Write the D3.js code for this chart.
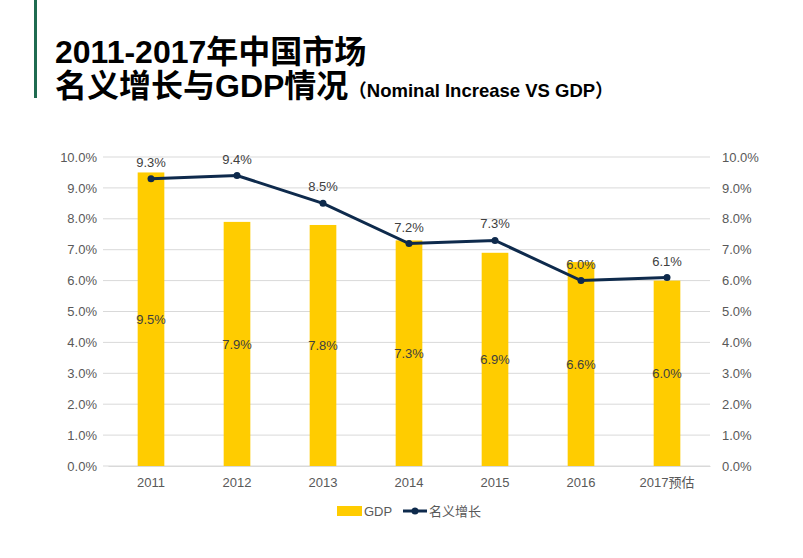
<!DOCTYPE html>
<html><head><meta charset="utf-8">
<script src="https://cdn.jsdelivr.net/npm/d3@7"></script>
<style>
body{margin:0;background:#fff;}
svg{display:block;font-family:"Liberation Sans",Arial,"Noto Sans CJK SC",sans-serif;}
</style></head>
<body><svg id="c" width="803" height="558"></svg>
<script>
const categories = ["2011","2012","2013","2014","2015","2016","2017预估"];
const gdp = [9.5,7.9,7.8,7.3,6.9,6.6,6.0];
const nominal = [9.3,9.4,8.5,7.2,7.3,6.0,6.1];
const yTicks = [0,1,2,3,4,5,6,7,8,9,10];

const svg = d3.select("#c");
const m = {left:108,right:710,top:157,bottom:466};

// title block
svg.append("rect").attr("x",34).attr("y",0).attr("width",3).attr("height",98).attr("fill","#1F6B50");
svg.append("text").attr("x",55).attr("y",63).attr("font-size",32).attr("font-weight","bold").attr("fill","#000")
  .attr("font-family","'Liberation Sans','Noto Sans CJK SC',sans-serif").text("2011-2017年中国市场");
const t2 = svg.append("text").attr("x",55).attr("y",97).attr("font-weight","bold").attr("fill","#000")
  .attr("font-family","'Liberation Sans','Noto Sans CJK SC',sans-serif");
t2.append("tspan").attr("font-size",32).text("名义增长与GDP情况");
t2.append("tspan").attr("font-size",18.5).text("（Nominal Increase VS GDP）");

const x = d3.scaleBand().domain(categories).range([m.left,m.right]).paddingInner(0.69).paddingOuter(0.345);
const y = d3.scaleLinear().domain([0,10]).range([m.bottom,m.top]);

// gridlines
svg.append("g").selectAll("line").data(yTicks).join("line")
  .attr("x1",103).attr("x2",m.right).attr("y1",d=>y(d)).attr("y2",d=>y(d))
  .attr("stroke","#d9d9d9").attr("stroke-width",1);

// axes
const fmt = d=>d.toFixed(1)+"%";
const yl = svg.append("g").attr("transform",`translate(${m.left-5},0)`)
  .call(d3.axisLeft(y).tickValues(yTicks).tickFormat(fmt).tickSize(0).tickPadding(6));
yl.select(".domain").remove();
yl.selectAll("text").attr("font-size",13).attr("fill","#595959").attr("font-family","'Liberation Sans',Arial,sans-serif");
const yr = svg.append("g").attr("transform",`translate(${m.right+6},0)`)
  .call(d3.axisRight(y).tickValues(yTicks).tickFormat(fmt).tickSize(0).tickPadding(6));
yr.select(".domain").remove();
yr.selectAll("text").attr("font-size",13).attr("fill","#595959").attr("font-family","'Liberation Sans',Arial,sans-serif");

// bars
svg.append("g").selectAll("rect").data(gdp).join("rect")
  .attr("x",(d,i)=>x(categories[i])).attr("width",x.bandwidth())
  .attr("y",d=>y(d)).attr("height",d=>y(0)-y(d)).attr("fill","#FFCC00");

// x axis
const xa = svg.append("g").attr("transform",`translate(0,${m.bottom})`)
  .call(d3.axisBottom(x).tickSize(0).tickPadding(12));
xa.select(".domain").attr("stroke","#d9d9d9");
xa.selectAll("text").attr("font-size",13).attr("fill","#595959").attr("font-family","'Liberation Sans','Noto Sans CJK SC',sans-serif");

// bar labels
svg.append("g").selectAll("text").data(gdp).join("text")
  .attr("x",(d,i)=>x(categories[i])+x.bandwidth()/2).attr("y",d=>(y(d)+y(0))/2+5)
  .attr("text-anchor","middle").attr("font-size",13).attr("fill","#404040").text(d=>d.toFixed(1)+"%");

// line
const cx = (d,i)=>x(categories[i])+x.bandwidth()/2;
svg.append("path").datum(nominal)
  .attr("d",d3.line().x(cx).y(d=>y(d)))
  .attr("fill","none").attr("stroke","#0E2A4C").attr("stroke-width",3);
svg.append("g").selectAll("circle").data(nominal).join("circle")
  .attr("cx",cx).attr("cy",d=>y(d)).attr("r",3.5).attr("fill","#0E2A4C");
svg.append("g").selectAll("text").data(nominal).join("text")
  .attr("x",cx).attr("y",d=>y(d)-12)
  .attr("text-anchor","middle").attr("font-size",13).attr("fill","#404040").text(d=>d.toFixed(1)+"%");

// legend
const lg = svg.append("g");
lg.append("rect").attr("x",337).attr("y",506).attr("width",25).attr("height",10).attr("fill","#FFCC00");
lg.append("text").attr("x",364).attr("y",516).attr("font-size",13).attr("fill","#595959").text("GDP");
lg.append("line").attr("x1",403).attr("x2",427).attr("y1",511).attr("y2",511).attr("stroke","#0E2A4C").attr("stroke-width",3);
lg.append("circle").attr("cx",415).attr("cy",511).attr("r",3.5).attr("fill","#0E2A4C");
lg.append("text").attr("x",429).attr("y",516).attr("font-size",13).attr("fill","#595959")
  .attr("font-family","'Noto Sans CJK SC',sans-serif").text("名义增长");
</script></body></html>
